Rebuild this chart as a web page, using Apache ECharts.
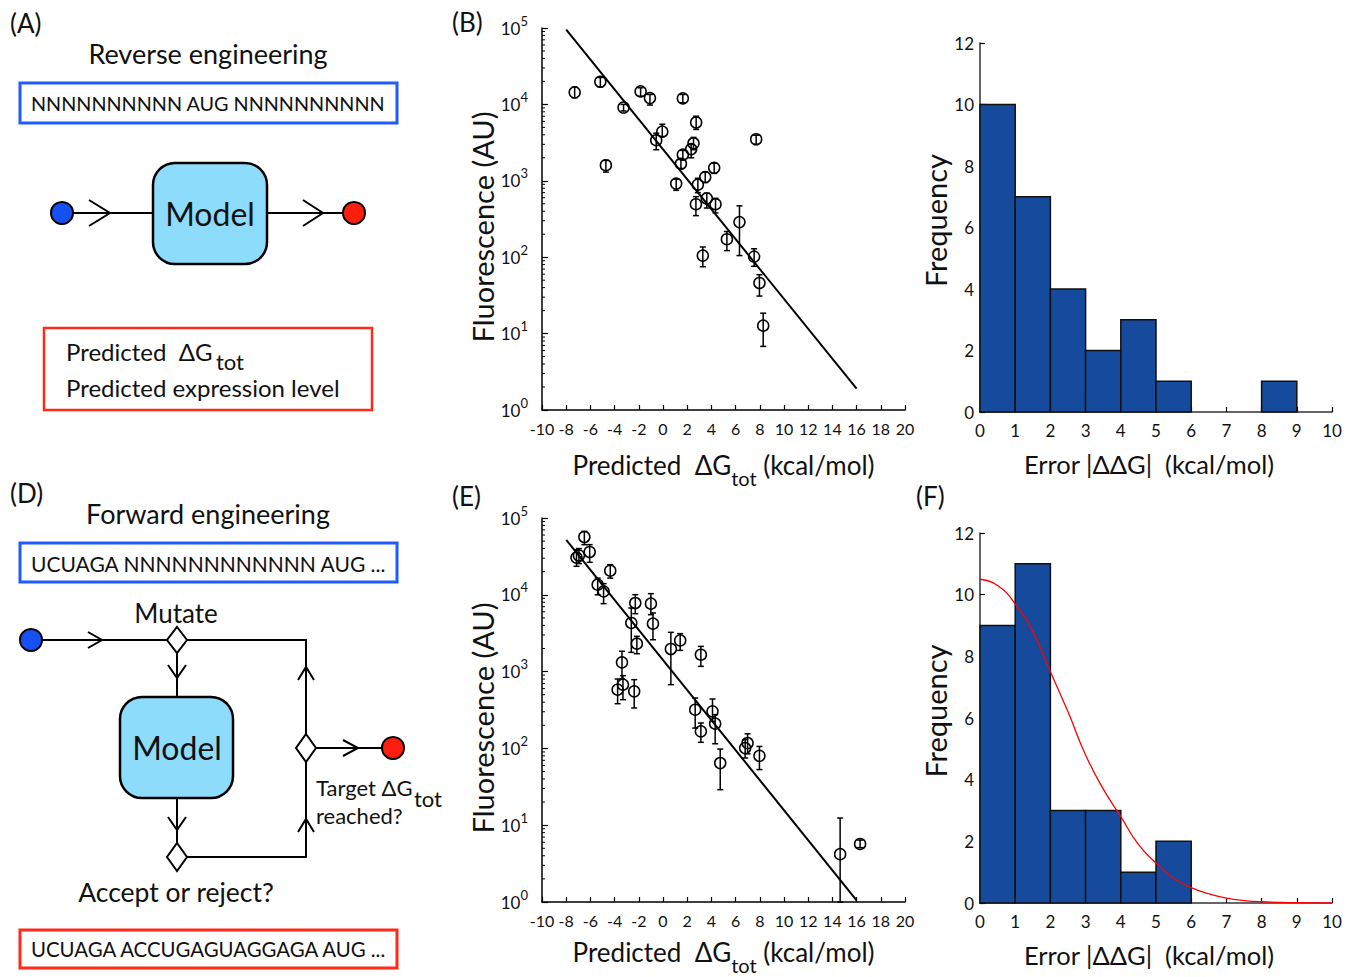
<!DOCTYPE html>
<html lang="en" style="height: 100%">
<head>
  <meta charset="utf-8">
</head>
<body style="height: 100%; margin: 0; background: #fff">
  <div id="container" style="width: 1356px; height: 977px"></div>

  <script type="text/javascript" src="https://fastly.jsdelivr.net/npm/echarts@6.0.0/dist/echarts.min.js"></script>
  <script type="text/javascript">
    // (B) reverse engineering: predicted dG_tot vs measured fluorescence
    var bX  = [-7.30, -5.18, -3.26, -4.72, -1.85, -1.08, -0.56, -0.06, 1.64, 2.74, 1.48, 1.64, 2.33, 2.52, 1.09, 2.88, 3.49, 4.23, 2.72, 3.62, 4.34, 6.32, 5.28, 3.29, 7.53, 7.97, 8.28, 7.70];
    var bY  = [14400, 19800, 9100, 1600, 14800, 12100, 3400, 4400, 12000, 5800, 1670, 2200, 2600, 3100, 920, 890, 1120, 1480, 494, 587, 494, 288, 172, 105, 102, 46, 12.7, 3500];
    var bLo = [12200, 17000, 8200, 1300, 12800, 9800, 2550, 3800, 10500, 4700, 1450, 1900, 2000, 2550, 750, 700, 950, 1250, 350, 440, 380, 105, 122, 75, 76, 31, 6.8, 3000];
    var bHi = [16800, 22500, 10000, 1850, 16500, 13500, 4200, 5500, 13500, 7000, 1900, 2500, 3000, 3700, 1050, 1080, 1300, 1700, 620, 690, 590, 470, 217, 136, 129, 59, 18.5, 3950];
    var bFitX = [-8, 16];
    var bFitY = [95000, 1.9];

    // (E) forward engineering
    var eX  = [-6.50, -7.15, -6.95, -6.06, -4.36, -5.40, -4.91, -2.29, -1.00, -2.62, -0.83, -2.16, 0.65, 1.42, 3.13, -3.39, -3.75, -3.31, -2.38, 2.66, 3.13, 4.09, 4.31, 4.73, 6.79, 6.99, 7.97, 14.64, 16.29];
    var eY  = [56600, 30500, 32500, 36100, 20600, 13550, 11100, 7820, 7670, 4300, 4210, 2310, 1970, 2550, 1660, 1320, 582, 676, 553, 319, 167, 304, 210, 64.5, 101, 117.5, 80, 4.2, 5.7];
    var eLo = [44900, 23500, 25500, 26500, 16500, 10000, 7670, 5680, 5510, 1780, 2600, 1710, 676, 1890, 1170, 800, 382, 431, 336, 184, 120, 225, 115, 29, 75, 85, 53, 1.0, 5.1];
    var eHi = [67000, 38700, 40000, 45000, 24700, 16500, 13960, 10040, 10350, 6730, 5800, 2880, 3245, 3120, 2130, 1840, 800, 885, 785, 453, 214, 440, 275, 98, 130, 155, 106, 12.4, 6.4];
    var eFitX = [-8, 16];
    var eFitY = [52000, 1.05];

    // (C) and (F) error histograms, bins of 1 kcal/mol
    var binEdges = [0, 1, 2, 3, 4, 5, 6, 7, 8, 9, 10];
    var cCounts = [10, 7, 4, 2, 3, 1, 0, 0, 1, 0];
    var fCounts = [9, 11, 3, 3, 1, 2, 0, 0, 0, 0];
    // red curve in (F)
    var fCurveX = [0, 0.5, 1, 1.5, 2, 2.5, 3, 3.5, 4, 4.5, 5, 5.5, 6, 6.5, 7, 7.5, 8, 9, 10];
    var fCurveY = [10.5, 10.3, 9.7, 8.8, 7.5, 6.2, 4.8, 3.7, 2.8, 1.9, 1.3, 0.8, 0.5, 0.3, 0.16, 0.08, 0.04, 0.01, 0];

    var decades = [1, 10, 100, 1000, 10000];
    var minorSteps = [2, 3, 4, 5, 6, 7, 8, 9];

    var FONT = 'Lato, "Open Sans", sans-serif';
    var BLUE = '#164a9c';

    function zip3(x, lo, hi) {
      return x.map(function (v, i) { return [v, lo[i], hi[i]]; });
    }
    function zip2(x, y) {
      return x.map(function (v, i) { return [v, y[i]]; });
    }
    function bins(counts) {
      return counts.map(function (c, i) { return [binEdges[i], binEdges[i + 1], c]; });
    }
    var minorTicks = [];
    decades.forEach(function (d) {
      minorSteps.forEach(function (m) { minorTicks.push([-10, d * m]); });
    });

    function errRender(params, api) {
      var x = api.value(0);
      var lo = api.coord([x, api.value(1)]);
      var hi = api.coord([x, api.value(2)]);
      var c = 3;
      var st = { stroke: '#000', lineWidth: 1.5 };
      return {
        type: 'group',
        children: [
          { type: 'line', shape: { x1: lo[0], y1: lo[1], x2: hi[0], y2: hi[1] }, style: st },
          { type: 'line', shape: { x1: hi[0] - c, y1: hi[1], x2: hi[0] + c, y2: hi[1] }, style: st },
          { type: 'line', shape: { x1: lo[0] - c, y1: lo[1], x2: lo[0] + c, y2: lo[1] }, style: st }
        ]
      };
    }
    function minorRender(params, api) {
      var p = api.coord([api.value(0), api.value(1)]);
      return { type: 'line', shape: { x1: p[0], y1: p[1], x2: p[0] + 3, y2: p[1] }, style: { stroke: '#000', lineWidth: 1 } };
    }
    function histRender(params, api) {
      if (!api.value(2)) return null;
      var a = api.coord([api.value(0), api.value(2)]);
      var b = api.coord([api.value(1), 0]);
      return {
        type: 'rect',
        shape: { x: a[0], y: a[1], width: b[0] - a[0], height: b[1] - a[1] },
        style: { fill: BLUE, stroke: '#111', lineWidth: 1.5 }
      };
    }

    var axisLine = { onZero: false, lineStyle: { color: '#000', width: 1.5 } };
    var tickIn = { inside: true, length: 5, lineStyle: { color: '#000', width: 1.2 } };

    function dgAxis(idx, gap) {
      return {
        type: 'value', gridIndex: idx, min: -10, max: 20, interval: 2,
        axisLine: axisLine, axisTick: tickIn, splitLine: { show: false },
        axisLabel: { color: '#111', fontSize: 16, fontFamily: FONT, margin: 10 },
        name: '{a|Predicted  ΔG}{s|tot}{a| (kcal/mol)}',
        nameLocation: 'middle', nameGap: gap,
        nameTextStyle: {
          color: '#111', fontFamily: FONT,
          rich: {
            a: { fontSize: 26, fontFamily: FONT, color: '#111', lineHeight: 46 },
            s: { fontSize: 20, fontFamily: FONT, color: '#111', lineHeight: 22, verticalAlign: 'bottom' }
          }
        }
      };
    }
    function fluoAxis(idx) {
      return {
        type: 'log', logBase: 10, gridIndex: idx, min: 1, max: 100000,
        axisLine: axisLine, axisTick: { inside: true, length: 6, lineStyle: { color: '#000', width: 1.2 } },
        splitLine: { show: false },
        axisLabel: {
          margin: 14,
          formatter: function (v) {
            return '{b|10}{e|' + Math.round(Math.log10(v)) + '}';
          },
          rich: {
            b: { fontSize: 17, fontFamily: FONT, color: '#111', lineHeight: 28 },
            e: { fontSize: 13, fontFamily: FONT, color: '#111', lineHeight: 14, verticalAlign: 'top' }
          }
        },
        name: 'Fluorescence (AU)', nameLocation: 'middle', nameGap: 44, nameRotate: 90,
        nameTextStyle: { color: '#111', fontSize: 29, fontFamily: FONT, padding: [0, 16, 0, 0] }
      };
    }
    function errAxis(idx) {
      return {
        type: 'value', gridIndex: idx, min: 0, max: 10, interval: 1,
        axisLine: { onZero: false, lineStyle: { color: '#333', width: 1.5 } }, axisTick: tickIn, splitLine: { show: false },
        axisLabel: { color: '#111', fontSize: 17, fontFamily: FONT, margin: 10 },
        name: 'Error |ΔΔG|  (kcal/mol)', nameLocation: 'middle', nameGap: 39,
        nameTextStyle: { color: '#111', fontSize: 25.5, fontFamily: FONT, padding: [0, 14, 0, 0] }
      };
    }
    function freqAxis(idx) {
      return {
        type: 'value', gridIndex: idx, min: 0, max: 12, interval: 2,
        axisLine: { onZero: false, lineStyle: { color: '#333', width: 1.5 } }, axisTick: tickIn, splitLine: { show: false },
        axisLabel: { color: '#111', fontSize: 17, fontFamily: FONT, margin: 6 },
        name: 'Frequency', nameLocation: 'middle', nameGap: 28, nameRotate: 90,
        nameTextStyle: { color: '#111', fontSize: 29, fontFamily: FONT, padding: [0, 0, 0, 14] }
      };
    }

    // ---- diagrams (A) and (D) ----
    function txt(x, y, s, size, align) {
      return {
        type: 'text', x: x, y: y, z: 10,
        style: {
          text: s, fill: '#111', fontSize: size, fontFamily: FONT,
          textAlign: align || 'left', textVerticalAlign: 'middle',
          align: align || 'left', verticalAlign: 'middle'
        }
      };
    }
    function pl(points, w) {
      return { type: 'polyline', shape: { points: points }, style: { stroke: '#000', lineWidth: w || 2, fill: null } };
    }
    function box(x, y, w, h, color, lw) {
      return { type: 'rect', shape: { x: x, y: y, width: w, height: h }, style: { fill: '#fff', stroke: color, lineWidth: lw || 3 } };
    }
    function model(x, y, w, h) {
      return { type: 'rect', shape: { x: x, y: y, width: w, height: h, r: 22 }, style: { fill: '#8edcfb', stroke: '#000', lineWidth: 2.5 } };
    }
    function dot(cx, cy, color) {
      return { type: 'circle', shape: { cx: cx, cy: cy, r: 11 }, style: { fill: color, stroke: '#000', lineWidth: 2 } };
    }
    function diamond(cx, cy, hw, hh) {
      return {
        type: 'polygon',
        shape: { points: [[cx, cy - hh], [cx + hw, cy], [cx, cy + hh], [cx - hw, cy]] },
        style: { fill: '#fff', stroke: '#000', lineWidth: 2 }
      };
    }

    var graphics = [
      // panel A
      txt(10, 23, '(A)', 26),
      txt(208, 53, 'Reverse engineering', 27, 'center'),
      box(20, 83, 377, 40, '#1f5cff'),
      txt(31, 103, 'NNNNNNNNNN AUG NNNNNNNNNN', 19.8),
      pl([[62, 213], [153, 213]]),
      pl([[267, 213], [354, 213]]),
      pl([[89, 200], [110, 213], [89, 226]]),
      pl([[303, 200], [323, 213], [303, 226]]),
      model(153, 163, 114, 101),
      txt(210, 213, 'Model', 32, 'center'),
      dot(62, 213, '#1450f2'),
      dot(354, 213, '#ff1e0e'),
      box(44, 328, 328, 82, '#ff2a1a', 2.5),
      txt(66, 351, 'Predicted  ΔG', 24),
      txt(216, 361, 'tot', 22),
      txt(66, 387, 'Predicted expression level', 24),

      // panel D
      txt(10, 493, '(D)', 26),
      txt(208, 513, 'Forward engineering', 27, 'center'),
      box(20, 543, 377, 39, '#1f5cff'),
      txt(31, 563, 'UCUAGA NNNNNNNNNNNN AUG ...', 21),
      txt(176, 613, 'Mutate', 26, 'center'),
      pl([[31, 640], [306, 640], [306, 748]]),
      pl([[177, 640], [177, 697]]),
      pl([[177, 798], [177, 857], [306, 857], [306, 748], [393, 748]]),
      pl([[88, 632], [102, 640], [88, 648]]),
      pl([[168, 665], [177, 678], [186, 665]]),
      pl([[168, 817], [177, 830], [186, 817]]),
      pl([[298, 680], [306, 667], [314, 680]]),
      pl([[298, 832], [306, 819], [314, 832]]),
      pl([[343, 740], [358, 748], [343, 756]]),
      diamond(177, 640, 10, 13),
      diamond(306, 748, 10, 14),
      diamond(177, 857, 10, 14),
      model(120, 697, 113, 101),
      txt(177, 747, 'Model', 32, 'center'),
      dot(31, 640, '#1450f2'),
      dot(393, 748, '#ff1e0e'),
      txt(316, 787, 'Target ΔG', 22),
      txt(414, 798, 'tot', 22),
      txt(316, 815, 'reached?', 22),
      txt(176, 892, 'Accept or reject?', 26.5, 'center'),
      box(20, 930, 377, 38, '#ff2a1a'),
      txt(31, 949, 'UCUAGA ACCUGAGUAGGAGA AUG ...', 20.4),

      // panel letters for the charts
      txt(452, 22, '(B)', 26),
      txt(452, 496, '(E)', 26),
      txt(916, 496, '(F)', 26)
    ];

    var dom = document.getElementById('container');
    var myChart = echarts.init(dom, null, { renderer: 'svg' });

    var option = {
      backgroundColor: '#fff',
      animation: false,
      grid: [
        { left: 542, top: 28, width: 363, height: 382, outerBoundsMode: 'none' },
        { left: 980, top: 43, width: 352, height: 369, outerBoundsMode: 'none' },
        { left: 542, top: 518, width: 363, height: 384, outerBoundsMode: 'none' },
        { left: 980, top: 533, width: 352, height: 370, outerBoundsMode: 'none' }
      ],
      xAxis: [dgAxis(0, 32), errAxis(1), dgAxis(2, 27), errAxis(3)],
      yAxis: [fluoAxis(0), freqAxis(1), fluoAxis(2), freqAxis(3)],
      graphic: graphics,
      series: [
        { type: 'custom', xAxisIndex: 0, yAxisIndex: 0, renderItem: minorRender, data: minorTicks, encode: { x: 0, y: 1 }, silent: true },
        { type: 'line', xAxisIndex: 0, yAxisIndex: 0, data: zip2(bFitX, bFitY), symbol: 'none', lineStyle: { color: '#000', width: 2 }, z: 3 },
        { type: 'custom', xAxisIndex: 0, yAxisIndex: 0, renderItem: errRender, data: zip3(bX, bLo, bHi), encode: { x: 0, y: [1, 2] }, z: 4 },
        { type: 'scatter', xAxisIndex: 0, yAxisIndex: 0, data: zip2(bX, bY), symbol: 'circle', symbolSize: 11,
          itemStyle: { color: 'rgba(0,0,0,0)', borderColor: '#000', borderWidth: 1.5, opacity: 1 }, z: 5 },

        { type: 'custom', xAxisIndex: 1, yAxisIndex: 1, renderItem: histRender, data: bins(cCounts), encode: { x: [0, 1], y: 2 } },

        { type: 'custom', xAxisIndex: 2, yAxisIndex: 2, renderItem: minorRender, data: minorTicks, encode: { x: 0, y: 1 }, silent: true },
        { type: 'line', xAxisIndex: 2, yAxisIndex: 2, data: zip2(eFitX, eFitY), symbol: 'none', lineStyle: { color: '#000', width: 2 }, z: 3 },
        { type: 'custom', xAxisIndex: 2, yAxisIndex: 2, renderItem: errRender, data: zip3(eX, eLo, eHi), encode: { x: 0, y: [1, 2] }, z: 4 },
        { type: 'scatter', xAxisIndex: 2, yAxisIndex: 2, data: zip2(eX, eY), symbol: 'circle', symbolSize: 11,
          itemStyle: { color: 'rgba(0,0,0,0)', borderColor: '#000', borderWidth: 1.5, opacity: 1 }, z: 5 },

        { type: 'custom', xAxisIndex: 3, yAxisIndex: 3, renderItem: histRender, data: bins(fCounts), encode: { x: [0, 1], y: 2 } },
        { type: 'line', xAxisIndex: 3, yAxisIndex: 3, data: zip2(fCurveX, fCurveY), smooth: true, symbol: 'none',
          lineStyle: { color: '#ff0000', width: 1.3 }, z: 5 }
      ]
    };

    myChart.setOption(option);
    window.addEventListener('resize', myChart.resize);
  </script>
</body>
</html>
